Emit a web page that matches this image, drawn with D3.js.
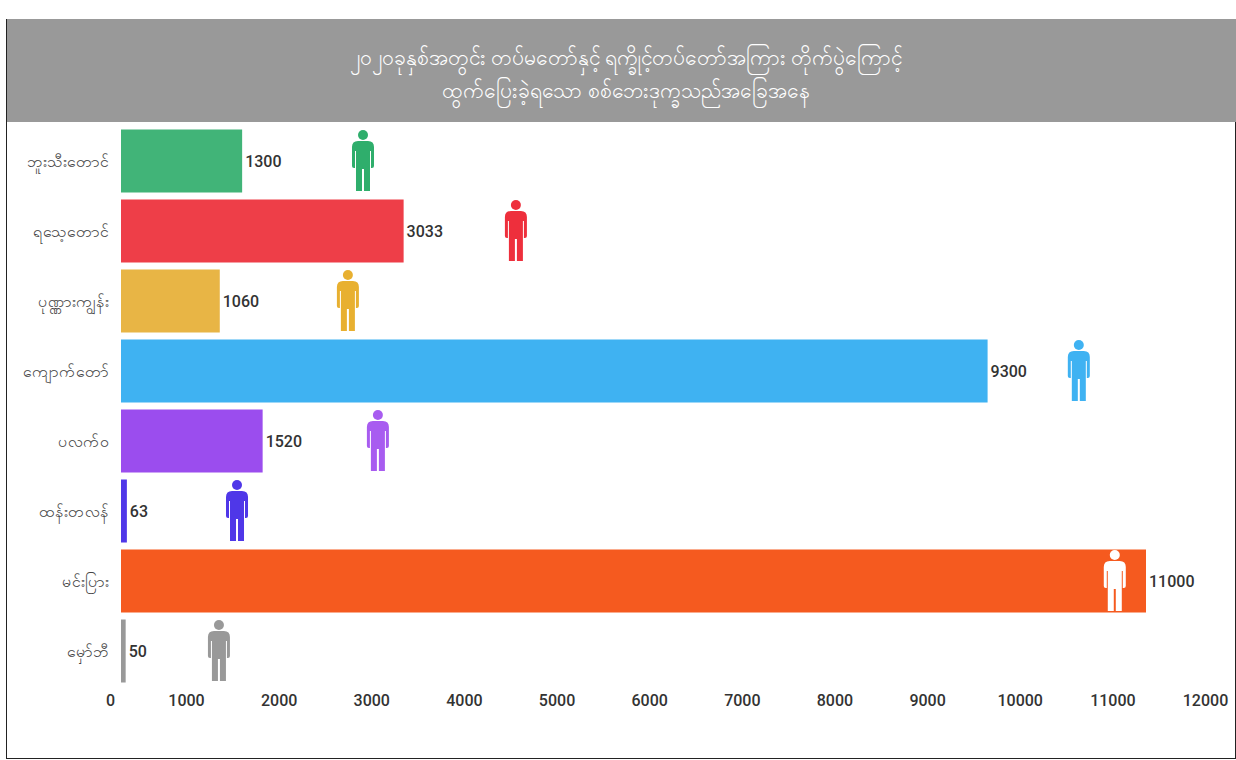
<!DOCTYPE html>
<html>
<head>
<meta charset="utf-8">
<style>
  html, body { margin: 0; padding: 0; background: #fff; }
  text { font-family: Roboto, "Noto Sans", sans-serif; }
</style>
</head>
<body>
<div id="chart"></div>
<script src="https://cdnjs.cloudflare.com/ajax/libs/d3/7.8.5/d3.min.js"></script>
<script>
var titleLines = ["၂၀၂၀ခုနှစ်အတွင်း တပ်မတော်နှင့် ရက္ခိုင့်တပ်တော်အကြား တိုက်ပွဲကြောင့်", "ထွက်ပြေးခဲ့ရသော စစ်ဘေးဒုက္ခသည်အခြေအနေ"];
var places = ["ဘူးသီးတောင်", "ရသေ့တောင်", "ပုဏ္ဏားကျွန်း", "ကျောက်တော်", "ပလက်ဝ", "ထန်းတလန်", "မင်းပြား", "မှော်ဘီ"];
var people = [1300, 3033, 1060, 9300, 1520, 63, 11000, 50];
var barColors = ["#41b478", "#ee3e48", "#e8b545", "#3fb2f2", "#9b4dee", "#4f37e8", "#f55a1f", "#999999"];
var iconColors = ["#2fae6c", "#ee2f3c", "#e8b030", "#3fb2f2", "#a85cf0", "#4f37e8", "#ffffff", "#999999"];
// where the little figure sits on each row, in axis units
var iconAt = [2597, 4238, 2435, 10279, 2757, 1245, 10665, 1051];
var tickValues = [0, 1000, 2000, 3000, 4000, 5000, 6000, 7000, 8000, 9000, 10000, 11000, 12000];

var W = 1236, H = 760;

var svg = d3.select("#chart").append("svg")
  .attr("width", W)
  .attr("height", H)
  .style("display", "block");

// frame
svg.append("rect")
  .attr("x", 6.5).attr("y", 19.5)
  .attr("width", 1229).attr("height", 739)
  .attr("fill", "none")
  .attr("stroke", "#222");

// title band
svg.append("rect")
  .attr("x", 7).attr("y", 19)
  .attr("width", 1229).attr("height", 103)
  .attr("fill", "#999999");

svg.selectAll(".title")
  .data(titleLines)
  .enter().append("text")
  .attr("class", "title")
  .attr("x", 626)
  .attr("y", function(d, i) { return 65 + i * 33; })
  .attr("text-anchor", "middle")
  .attr("fill", "#fff")
  .style("font-size", "21px")
  .text(function(d) { return d; });

var x = d3.scaleLinear().domain([0, 11000]).range([121, 1146]);
var y = d3.scaleBand().domain(places).range([126, 686]).paddingInner(0.1).paddingOuter(0.05);

// the printed tick labels do not line up with the bars, so they get their own scale
var tickX = d3.scaleLinear().domain([0, 1000, 12000]).range([110, 186, 1205]);

svg.selectAll(".bar")
  .data(places)
  .enter().append("rect")
  .attr("class", "bar")
  .attr("x", x(0))
  .attr("y", function(d) { return y(d); })
  .attr("width", function(d, i) { return x(people[i]) - x(0); })
  .attr("height", y.bandwidth())
  .attr("fill", function(d, i) { return barColors[i]; });

// value labels
svg.selectAll(".value")
  .data(places)
  .enter().append("text")
  .attr("class", "value")
  .attr("x", function(d, i) { return x(people[i]) + 3; })
  .attr("y", function(d) { return y(d) + y.bandwidth() / 2; })
  .attr("dy", ".35em")
  .attr("fill", "#333")
  .style("font-size", "16px")
  .style("font-weight", 500)
  .text(function(d, i) { return people[i]; });

// category labels
svg.selectAll(".place")
  .data(places)
  .enter().append("text")
  .attr("class", "place")
  .attr("x", 109)
  .attr("y", function(d) { return y(d) + y.bandwidth() / 2; })
  .attr("dy", ".35em")
  .attr("text-anchor", "end")
  .attr("fill", "#444")
  .style("font-size", "16px")
  .text(function(d) { return d; });

// person figure, about 24 wide and 60 high around (0,0)
var personPath = "M-5,-20 Q-11,-20 -11,-14 L-11,5 Q-11,7 -9,7 L-8,7 L-8,-10 L-7,-10 L-7,30 L-1,30 L-1,8 L1,8 L1,30 L7,30 L7,-10 L8,-10 L8,7 L9,7 Q11,7 11,5 L11,-14 Q11,-20 5,-20 Z";

var icons = svg.selectAll(".person")
  .data(places)
  .enter().append("g")
  .attr("class", "person")
  .attr("transform", function(d, i) { return "translate(" + x(iconAt[i]) + "," + (y(d) + y.bandwidth() / 2) + ")"; })
  .attr("fill", function(d, i) { return iconColors[i]; });

icons.append("circle").attr("cx", 0).attr("cy", -26).attr("r", 5);
icons.append("path").attr("d", personPath);

// bottom axis, labels only
var xAxis = d3.axisBottom(tickX).tickValues(tickValues).tickSize(0).tickPadding(0).tickFormat(d3.format("d"));
var axisG = svg.append("g")
  .attr("transform", "translate(0,695)")
  .call(xAxis);
axisG.select(".domain").remove();
axisG.selectAll("text")
  .attr("fill", "#333")
  .style("font-family", "Roboto, sans-serif")
  .style("font-size", "16px")
  .style("font-weight", 500);
</script>
</body>
</html>
